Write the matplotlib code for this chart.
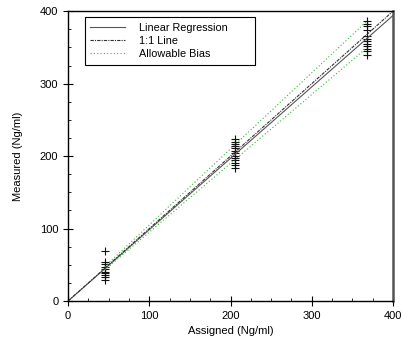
import numpy as np
import matplotlib
matplotlib.use("Agg")
import matplotlib.pyplot as plt
from matplotlib.ticker import MultipleLocator

plt.rcParams['font.family'] = ['Liberation Sans', 'DejaVu Sans']

# assigned levels and measured replicates
assigned_levels = [45, 206, 368]
measured_low = [69, 54, 51, 47, 44, 40, 38, 36, 33, 29]
measured_mid = [224, 220, 217, 214, 211, 207, 204, 200, 197, 194, 191, 188, 184]
measured_high = [386, 383, 380, 374, 366, 362, 359, 355, 352, 348, 345, 340]

reg_slope = 0.985
reg_intercept = 0.0
bias_pct = 0.05

fig = plt.figure(figsize=(4.03, 3.47), dpi=100)
ax = fig.add_axes([0.169, 0.1326, 0.806, 0.835])

groups = [measured_low, measured_mid, measured_high]
for lvl, vals in zip(assigned_levels, groups):
    ax.plot([lvl] * len(vals), vals, '+', color='#111111', ms=6, mew=0.8)

xfull = np.array([0, 400])
ax.plot(xfull, reg_slope * xfull + reg_intercept, '-', color='#555555', lw=0.8,
        label='Linear Regression')
ax.plot(xfull, xfull, color='#333333', lw=0.8, ls=(0, (3, 1, 1, 1)), label='1:1 Line')
xb = np.array([assigned_levels[0], assigned_levels[-1]])
ax.plot(xb, xb * (1 + bias_pct), color='#33bb33', lw=0.8, ls=(0, (1, 2)),
        label='Allowable Bias')
ax.plot(xb, xb * (1 - bias_pct), color='#33bb33', lw=0.8, ls=(0, (1, 2)))

ax.set_xlim(0, 400)
ax.set_ylim(0, 400)
ax.xaxis.set_major_locator(MultipleLocator(100))
ax.yaxis.set_major_locator(MultipleLocator(100))
ax.xaxis.set_minor_locator(MultipleLocator(25))
ax.yaxis.set_minor_locator(MultipleLocator(25))
ax.tick_params(which='major', direction='inout', length=7, width=0.8, labelsize=8)
ax.tick_params(which='minor', direction='in', length=2, width=0.6)
for s in ['left', 'bottom', 'top']:
    ax.spines[s].set_linewidth(1.0)
ax.spines['right'].set_linewidth(1.8)
ax.spines['right'].set_color('#555555')

ax.set_xlabel('Assigned (Ng/ml)', fontsize=8)
ax.set_ylabel('Measured (Ng/ml)', fontsize=8, labelpad=12)

leg = ax.legend(loc='upper left', fontsize=7.8, frameon=True, fancybox=False,
                edgecolor='black', framealpha=1, handlelength=3.2,
                borderpad=0.5, labelspacing=0.3, handletextpad=1.3,
                mode='expand', borderaxespad=0,
                bbox_to_anchor=(0.052, 0.979, 0.523, 0.0))
leg.get_frame().set_linewidth(0.8)

fig.savefig('out.png', dpi=100)
